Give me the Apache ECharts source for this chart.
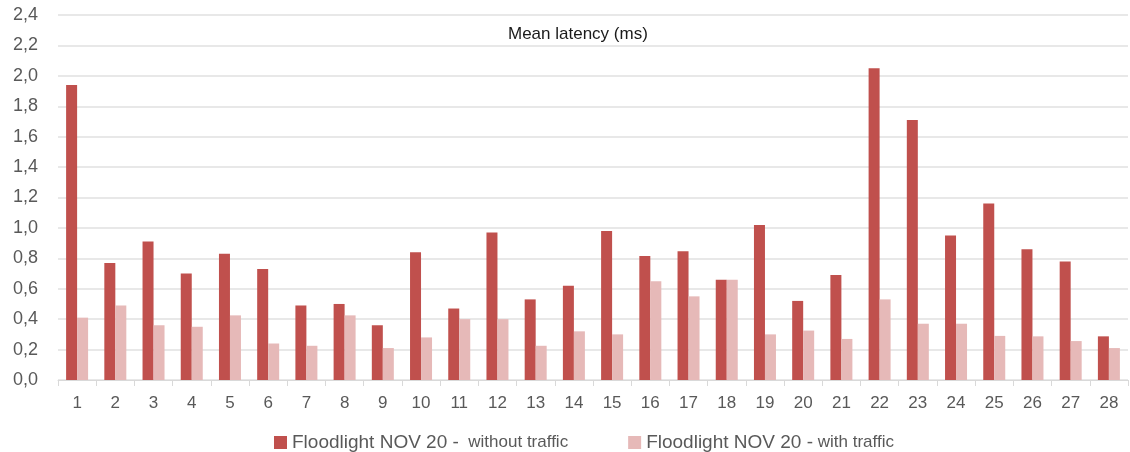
<!DOCTYPE html>
<html>
<head>
<meta charset="utf-8">
<script src="https://cdn.jsdelivr.net/npm/echarts@6/dist/echarts.min.js"></script>
<style>
html,body{margin:0;padding:0;background:#fff;}
#chart{width:1130px;height:452px;}
</style>
</head>
<body>
<div id="chart"></div>
<script>
const categories = ['1','2','3','4','5','6','7','8','9','10','11','12','13','14','15','16','17','18','19','20','21','22','23','24','25','26','27','28'];
const withoutTraffic = [1.94,0.77,0.91,0.70,0.83,0.73,0.49,0.50,0.36,0.84,0.47,0.97,0.53,0.62,0.98,0.815,0.846,0.66,1.02,0.52,0.69,2.05,1.71,0.95,1.16,0.86,0.78,0.287];
const withTraffic = [0.41,0.49,0.36,0.35,0.425,0.24,0.225,0.425,0.21,0.28,0.40,0.40,0.225,0.32,0.30,0.65,0.55,0.66,0.30,0.325,0.27,0.53,0.37,0.37,0.29,0.287,0.256,0.21];
const seriesNames = ['Floodlight NOV 20 -  without traffic', 'Floodlight NOV 20 - with traffic'];
const titleText = 'Mean latency (ms)';

const chart = echarts.init(document.getElementById('chart'));
chart.setOption({
  animation: false,
  backgroundColor: '#ffffff',
  title: {
    text: titleText,
    left: 503,
    top: 21,
    textStyle: {fontFamily: 'Liberation Sans, Arial', fontSize: 17, fontWeight: 'normal', color: '#1a1a1a'}
  },
  legend: {
    top: 428,
    left: 269,
    itemWidth: 13,
    itemHeight: 13,
    itemGap: 60,
    icon: 'rect',
    formatter: function (name) {
      const idx = name.indexOf(' - ');
      const a = name.slice(0, idx + 2);
      const b = name.slice(idx + 2);
      return '{a|' + a + '}{b|' + b + '}';
    },
    textStyle: {
      rich: {
        a: {fontFamily: 'Liberation Sans Narrow, Liberation Sans', fontSize: 19, color: '#595959'},
        b: {fontFamily: 'Liberation Sans Narrow, Liberation Sans', fontSize: 17, color: '#595959'}
      }
    }
  },
  grid: {left: 58, right: 2, top: 15, bottom: 72},
  xAxis: {
    type: 'category',
    data: categories,
    axisLine: {lineStyle: {color: '#d9d9d9', width: 1}},
    axisTick: {show: true, length: 6, lineStyle: {color: '#d9d9d9'}},
    axisLabel: {margin: 15, fontFamily: 'Liberation Sans, Arial', fontSize: 17, color: '#595959'}
  },
  yAxis: {
    type: 'value',
    min: 0,
    max: 2.4,
    interval: 0.2,
    axisLine: {show: false},
    axisTick: {show: false},
    splitLine: {lineStyle: {color: '#e0e0e0', width: 1.5}},
    axisLabel: {
      margin: 20,
      fontFamily: 'Liberation Sans Narrow, Liberation Sans',
      fontSize: 18,
      color: '#595959',
      formatter: function (v) { return v.toFixed(1).replace('.', ','); }
    }
  },
  series: [
    {
      name: seriesNames[0],
      type: 'bar',
      data: withoutTraffic,
      barWidth: 11,
      barGap: '0%',
      itemStyle: {color: '#C0504D'}
    },
    {
      name: seriesNames[1],
      type: 'bar',
      data: withTraffic,
      barWidth: 11,
      barGap: '0%',
      itemStyle: {color: '#E6B9B8'}
    }
  ]
});
</script>
</body>
</html>
